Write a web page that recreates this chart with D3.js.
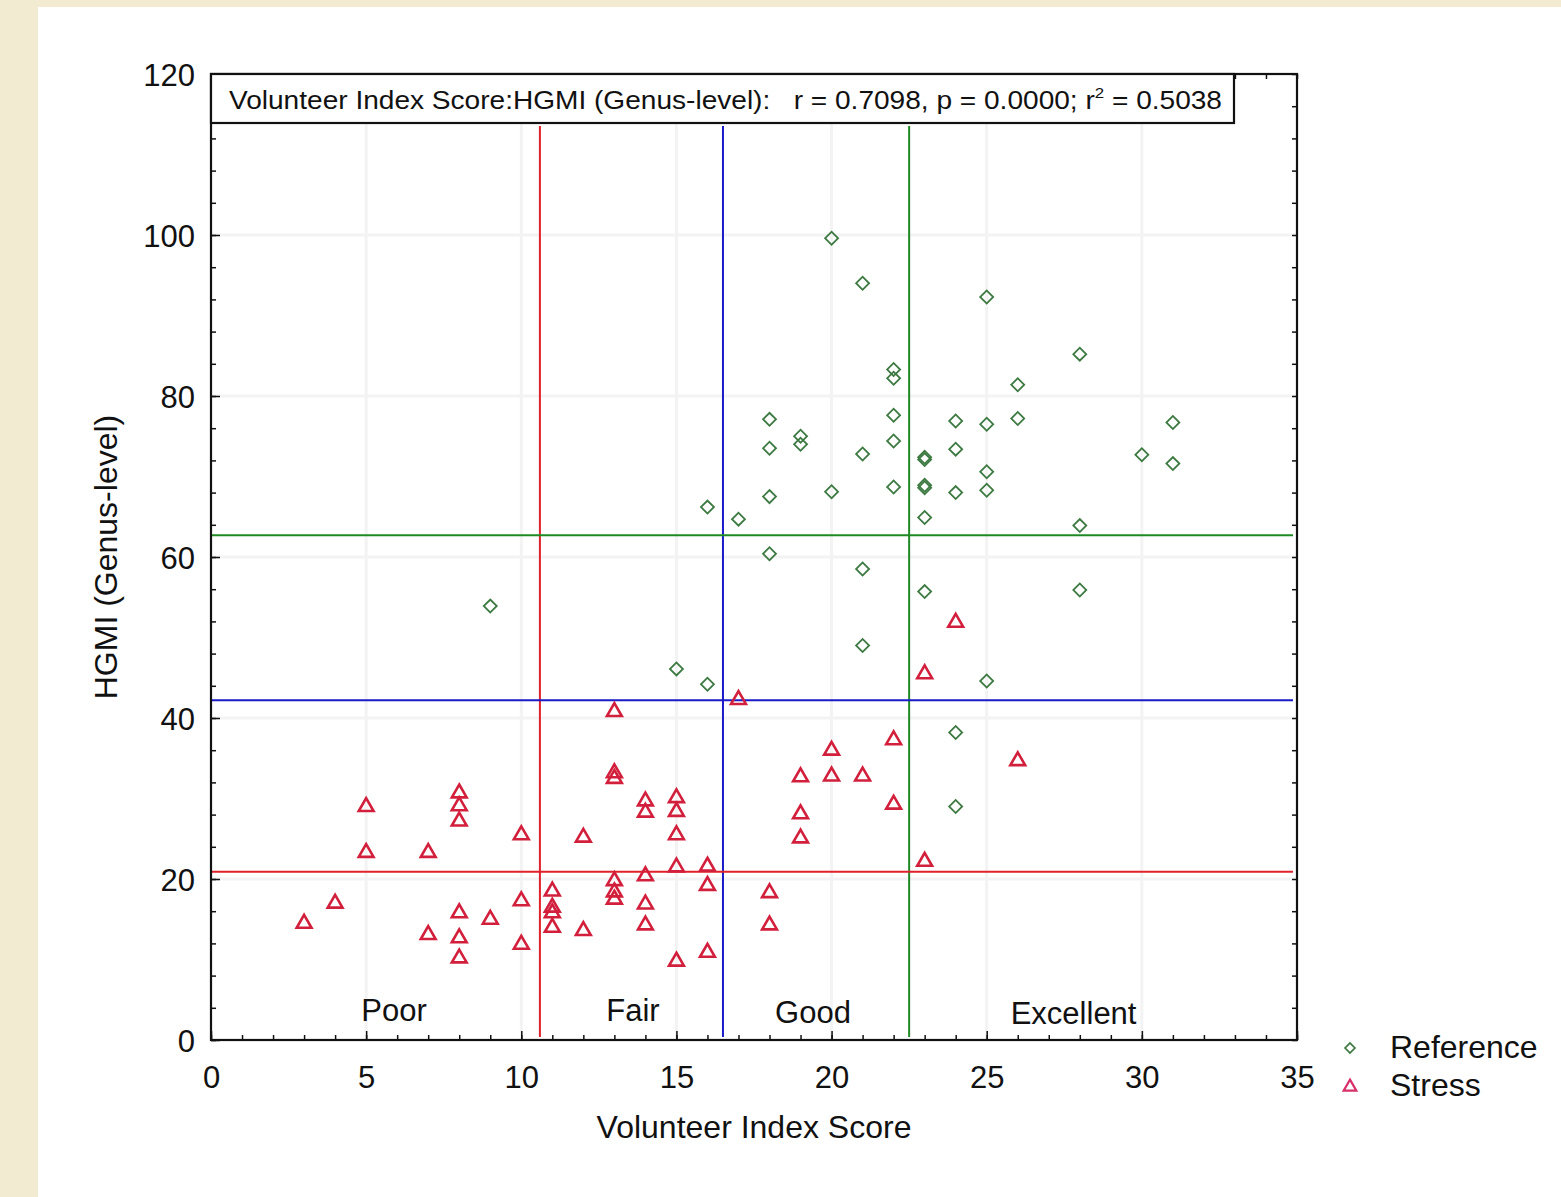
<!DOCTYPE html>
<html>
<head>
<meta charset="utf-8">
<script src="https://cdnjs.cloudflare.com/ajax/libs/d3/7.8.5/d3.min.js"></script>
<style>
  body { margin: 0; background: #f3ebd1; }
  svg { display: block; }
  text { font-family: "Liberation Sans", Arial, sans-serif; fill: #111; }
</style>
</head>
<body>
<svg id="chart" width="1561" height="1197"></svg>
<script>
// Reference sites: [Volunteer Index Score, HGMI]
const reference = [
  [20, 99.6], [21, 94.0], [25, 92.3], [28, 85.2], [26, 81.4], [22, 83.3], [22, 82.2],
  [18, 77.1], [22, 77.6], [24, 76.9], [25, 76.5], [26, 77.2], [31, 76.7],
  [19, 75.0], [19, 74.0], [18, 73.5], [22, 74.4], [21, 72.8], [24, 73.4],
  [23, 72.4], [23, 72.1], [30, 72.7], [31, 71.6], [25, 70.6],
  [18, 67.5], [20, 68.1], [22, 68.7], [23, 68.9], [23, 68.6], [24, 68.0], [25, 68.3],
  [16, 66.2], [17, 64.7], [23, 64.9], [28, 63.9], [18, 60.4], [21, 58.5],
  [23, 55.7], [28, 55.9], [9, 53.9], [21, 49.0], [15, 46.1], [16, 44.2], [25, 44.6],
  [24, 38.2], [24, 29.0]
];

// Stress sites
const stress = [
  [3, 14.6], [4, 17.1], [5, 29.1], [5, 23.4], [7, 23.4], [7, 13.2],
  [8, 30.8], [8, 29.2], [8, 27.3], [8, 15.9], [8, 12.8], [8, 10.3],
  [9, 15.1], [10, 25.6], [10, 17.4], [10, 12.0],
  [11, 18.6], [11, 16.6], [11, 15.9], [11, 14.1], [12, 25.3], [12, 13.7],
  [13, 40.9], [13, 33.3], [13, 32.6], [13, 19.9], [13, 18.5], [13, 17.6],
  [14, 29.8], [14, 28.4], [14, 20.5], [14, 17.0], [14, 14.4],
  [15, 30.2], [15, 28.5], [15, 25.6], [15, 21.6], [15, 9.9],
  [16, 21.7], [16, 19.3], [16, 11.0], [17, 42.4], [18, 18.4], [18, 14.4],
  [19, 32.8], [19, 28.2], [19, 25.2], [20, 36.1], [20, 32.9], [21, 32.9],
  [22, 37.4], [22, 29.4], [23, 45.6], [23, 22.3], [24, 52.0], [26, 34.8]
];

// Class boundaries on each axis
const xCuts = [10.6, 16.5, 22.5];
const yCuts = [20.9, 42.2, 62.7];
const cutColors = ["#e0202a", "#1a1ac8", "#1f8a24"];

const classLabels = ["Poor", "Fair", "Good", "Excellent"];
const classLabelX = [5.9, 13.6, 19.4, 27.8];
const classLabelY = [2.3, 2.3, 2.1, 2.0];

const xTicks = [0, 5, 10, 15, 20, 25, 30, 35];
const yTicks = [0, 20, 40, 60, 80, 100, 120];

const svg = d3.select("#chart");
const W = 1561, H = 1197;

svg.append("rect").attr("width", W).attr("height", H).attr("fill", "#f3ebd1");
svg.append("rect").attr("x", 38).attr("y", 7).attr("width", W - 38).attr("height", H - 7).attr("fill", "#fff");

const x = d3.scaleLinear().domain([0, 35]).range([211, 1297]);
const y = d3.scaleLinear().domain([0, 120]).range([1040, 74]);

// faint grid
const grid = svg.append("g").attr("stroke", "#f3f3f3").attr("stroke-width", 3);
grid.selectAll("line.v").data(xTicks.slice(1, -1)).enter().append("line")
  .attr("x1", d => x(d)).attr("x2", d => x(d)).attr("y1", y(0)).attr("y2", y(120));
grid.selectAll("line.h").data(yTicks.slice(1, -1)).enter().append("line")
  .attr("x1", x(0)).attr("x2", x(35)).attr("y1", d => y(d)).attr("y2", d => y(d));

// minor ticks (inward)
const minorX = svg.append("g").attr("transform", `translate(0,${y(0)})`)
  .call(d3.axisBottom(x).tickValues(d3.range(0, 36, 1)).tickSize(-5).tickFormat(""));
const minorXt = svg.append("g").attr("transform", `translate(0,${y(120)})`)
  .call(d3.axisTop(x).tickValues(d3.range(0, 36, 1)).tickSize(-5).tickFormat(""));
const minorY = svg.append("g").attr("transform", `translate(${x(0)},0)`)
  .call(d3.axisLeft(y).tickValues(d3.range(0, 121, 4)).tickSize(-5).tickFormat(""));
const minorYr = svg.append("g").attr("transform", `translate(${x(35)},0)`)
  .call(d3.axisRight(y).tickValues(d3.range(0, 121, 4)).tickSize(-5).tickFormat(""));

// major ticks with labels
const xAxis = svg.append("g").attr("transform", `translate(0,${y(0)})`)
  .call(d3.axisBottom(x).tickValues(xTicks).tickSize(-9).tickPadding(26).tickFormat(d3.format("d")));
const yAxis = svg.append("g").attr("transform", `translate(${x(0)},0)`)
  .call(d3.axisLeft(y).tickValues(yTicks).tickSize(-9).tickPadding(16).tickFormat(d3.format("d")));

[minorX, minorXt, minorY, minorYr, xAxis, yAxis].forEach(g => {
  g.select(".domain").remove();
  g.selectAll(".tick line").attr("stroke", "#111").attr("stroke-width", 1.5);
});
[xAxis, yAxis].forEach(g => {
  g.selectAll(".tick text").attr("font-size", 31).attr("font-family", "Liberation Sans, Arial, sans-serif").attr("fill", "#111");
});
yAxis.selectAll(".tick text").attr("dy", "0.36em");

// class boundary lines
const boxBottom = 123;
svg.append("g").selectAll("line").data(xCuts).enter().append("line")
  .attr("x1", d => x(d)).attr("x2", d => x(d))
  .attr("y1", boxBottom + 3).attr("y2", y(0) - 3)
  .attr("stroke", (d, i) => cutColors[i]).attr("stroke-width", 2);
svg.append("g").selectAll("line").data(yCuts).enter().append("line")
  .attr("x1", x(0)).attr("x2", x(35) - 4)
  .attr("y1", d => y(d)).attr("y2", d => y(d))
  .attr("stroke", (d, i) => cutColors[i]).attr("stroke-width", 2);

// class labels
svg.append("g").selectAll("text").data(classLabels).enter().append("text")
  .attr("x", (d, i) => x(classLabelX[i])).attr("y", (d, i) => y(classLabelY[i]))
  .attr("text-anchor", "middle").attr("font-size", 31).text(d => d);

// points
const diamond = d3.symbol().type(d3.symbolSquare).size(84);
const triangle = d3.symbol().type(d3.symbolTriangle).size(95);

svg.append("g").selectAll("path").data(reference).enter().append("path")
  .attr("d", diamond)
  .attr("transform", d => `translate(${x(d[0])},${y(d[1])}) rotate(45)`)
  .attr("fill", "none").attr("stroke", "#3d7a42").attr("stroke-width", 1.8);

svg.append("g").selectAll("path").data(stress).enter().append("path")
  .attr("d", triangle)
  .attr("transform", d => `translate(${x(d[0])},${y(d[1]) + 1})`)
  .attr("fill", "none").attr("stroke", "#d21f3c").attr("stroke-width", 2.6);

// frame
svg.append("rect")
  .attr("x", x(0)).attr("y", y(120)).attr("width", x(35) - x(0)).attr("height", y(0) - y(120))
  .attr("fill", "none").attr("stroke", "#111").attr("stroke-width", 2.2);

// statistics box
svg.append("rect").attr("x", x(0)).attr("y", y(120)).attr("width", 1234 - x(0)).attr("height", boxBottom - y(120))
  .attr("fill", "#fff").attr("stroke", "#111").attr("stroke-width", 2.2);
const stat = svg.append("text").attr("x", 229).attr("y", 109).attr("font-size", 25)
  .style("white-space", "pre");
stat.append("tspan").text("Volunteer Index Score:HGMI (Genus-level):   r = 0.7098, p = 0.0000; r");
stat.append("tspan").attr("font-size", 15).attr("dy", -11).text("2");
stat.append("tspan").attr("dy", 11).text(" = 0.5038");
// stretch the statistics line to fill the box like the original
stat.attr("textLength", 993).attr("lengthAdjust", "spacingAndGlyphs");

// axis titles
svg.append("text").attr("x", 754).attr("y", 1138).attr("text-anchor", "middle")
  .attr("font-size", 32).text("Volunteer Index Score");
svg.append("text").attr("transform", `translate(117,557) rotate(-90)`).attr("text-anchor", "middle")
  .attr("font-size", 32).text("HGMI (Genus-level)");

// legend
const legend = svg.append("g");
legend.append("path").attr("d", d3.symbol().type(d3.symbolSquare).size(50))
  .attr("transform", "translate(1350,1048) rotate(45)")
  .attr("fill", "none").attr("stroke", "#3d7a42").attr("stroke-width", 1.6);
legend.append("path").attr("d", d3.symbol().type(d3.symbolTriangle).size(70))
  .attr("transform", "translate(1350,1087)")
  .attr("fill", "none").attr("stroke", "#d8306a").attr("stroke-width", 2.2);
legend.append("text").attr("x", 1390).attr("y", 1058).attr("font-size", 32).text("Reference");
legend.append("text").attr("x", 1390).attr("y", 1096).attr("font-size", 32).text("Stress");
</script>
</body>
</html>
